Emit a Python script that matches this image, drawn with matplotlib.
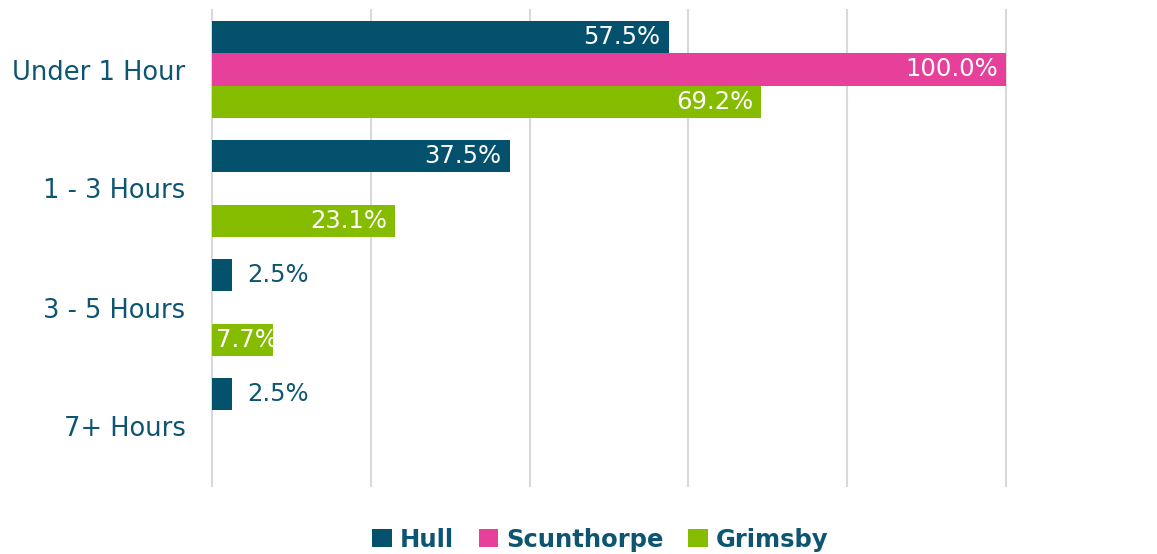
import numpy as np
import matplotlib.pyplot as plt

# data
categories = ['Under 1 Hour', '1 - 3 Hours', '3 - 5 Hours', '7+ Hours']
series = ['Hull', 'Scunthorpe', 'Grimsby']
hull = [57.5, 37.5, 2.5, 2.5]
scunthorpe = [100.0, 0, 0, 0]
grimsby = [69.2, 23.1, 7.7, 0]

colors = ['#03516D', '#E6409A', '#86BC00']
text_col = '#0E5572'

plt.rcParams['font.family'] = ['DejaVu Sans']

fig = plt.figure(figsize=(11.57, 5.54), dpi=100)
ax = fig.add_axes([212/1157, 1 - 486/554, (1006 - 212)/1157, (486 - 10)/554])

y = np.arange(len(categories))
h = 0.27
offsets = [-h, 0, h]

for vals, name, col, off in zip([hull, scunthorpe, grimsby], series, colors, offsets):
    ax.barh(y + off, vals, height=h, color=col, label=name, zorder=3)
    for yi, v in zip(y + off, vals):
        if v == 0:
            continue
        lab = f'{v:.1f}%'
        if v < 5:
            # too small, label goes outside
            ax.annotate(lab, (v, yi), xytext=(11, 0), textcoords='offset points',
                        ha='left', va='center', fontsize=17.5, color=text_col, zorder=4)
        elif v < 10:
            ax.annotate(lab, (0, yi), xytext=(3, 0), textcoords='offset points',
                        ha='left', va='center', fontsize=17.5, color='white', zorder=4)
        else:
            ax.annotate(lab, (v, yi), xytext=(-6, 0), textcoords='offset points',
                        ha='right', va='center', fontsize=17.5, color='white', zorder=4)

ax.set_xlim(0, 100)
ax.set_ylim(len(categories) - 0.5, -0.5)
ax.set_yticks(y)
ax.set_yticklabels(categories, fontsize=18.5, color=text_col)
ax.set_xticks(np.arange(0, 101, 20))
ax.tick_params(axis='x', labelbottom=False, length=0)
ax.tick_params(axis='y', length=0, pad=19)
ax.grid(axis='x', color='#D9D9D9', linewidth=1.5, zorder=0)
for gl in ax.get_xgridlines():
    gl.set_clip_on(False)
for s in ax.spines.values():
    s.set_visible(False)

leg = fig.legend(loc='lower center', bbox_to_anchor=(0.519, -0.035), ncol=3, frameon=False,
                 handlelength=0.8, handleheight=0.8, handletextpad=0.35, columnspacing=1.0,
                 prop={'size': 17.5, 'weight': 'bold'})
for t in leg.get_texts():
    t.set_color(text_col)

fig.savefig('out.png', dpi=100)
